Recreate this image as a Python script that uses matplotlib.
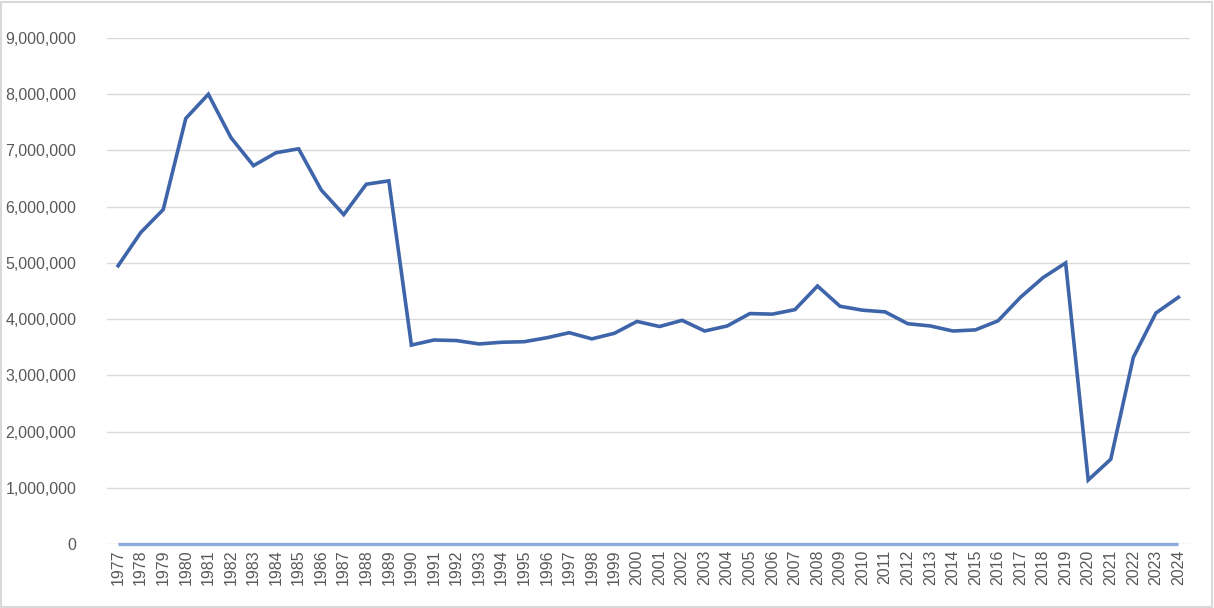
import matplotlib.pyplot as plt
from matplotlib.ticker import FuncFormatter, MultipleLocator
from matplotlib.patches import Rectangle

plt.rcParams['font.family'] = ['Liberation Sans', 'DejaVu Sans']

years = list(range(1977, 2025))
visitors = [
    4950000, 5540000, 5950000, 7570000, 8000000, 7230000, 6730000, 6960000,
    7030000, 6300000, 5860000, 6400000, 6460000, 3540000, 3630000, 3620000,
    3560000, 3590000, 3600000, 3670000, 3760000, 3650000, 3750000, 3960000,
    3870000, 3980000, 3790000, 3880000, 4100000, 4090000, 4170000, 4590000,
    4230000, 4160000, 4130000, 3920000, 3880000, 3790000, 3810000, 3970000,
    4390000, 4740000, 5000000, 1140000, 1510000, 3320000, 4110000, 4390000,
]
baseline = [0] * len(years)

fig = plt.figure(figsize=(12.14, 6.08), dpi=100)
ax = fig.add_axes([0.088, 0.105, 0.892, 0.8325])

x = list(range(len(years)))
ax.plot(x, baseline, color='#8eaadb', lw=2.4, solid_capstyle='butt', zorder=3,
        clip_on=False)
ax.plot(x, visitors, color='#3e65aa', lw=2.6, solid_joinstyle='miter', zorder=4)

ax.set_xlim(-0.5, len(years) - 0.5)
ax.set_ylim(0, 9000000)
ax.yaxis.set_major_locator(MultipleLocator(1000000))
ax.yaxis.set_major_formatter(FuncFormatter(lambda v, p: f'{int(v):,}'))
ax.set_xticks(x)
ax.set_xticklabels([str(y) for y in years], rotation=90)

ax.grid(axis='y', color='#d9d9d9', lw=1.0)
ax.set_axisbelow(True)
for s in ax.spines.values():
    s.set_visible(False)
ax.tick_params(axis='both', length=0, labelsize=11.5, labelcolor='#595959')
ax.tick_params(axis='y', pad=22)
ax.tick_params(axis='x', pad=4)

fig.patches.append(Rectangle((0.001, 0.002), 0.997, 0.995, transform=fig.transFigure,
                             fill=False, edgecolor='#d9d9d9', lw=1.5))

fig.savefig('out.png', dpi=100)
